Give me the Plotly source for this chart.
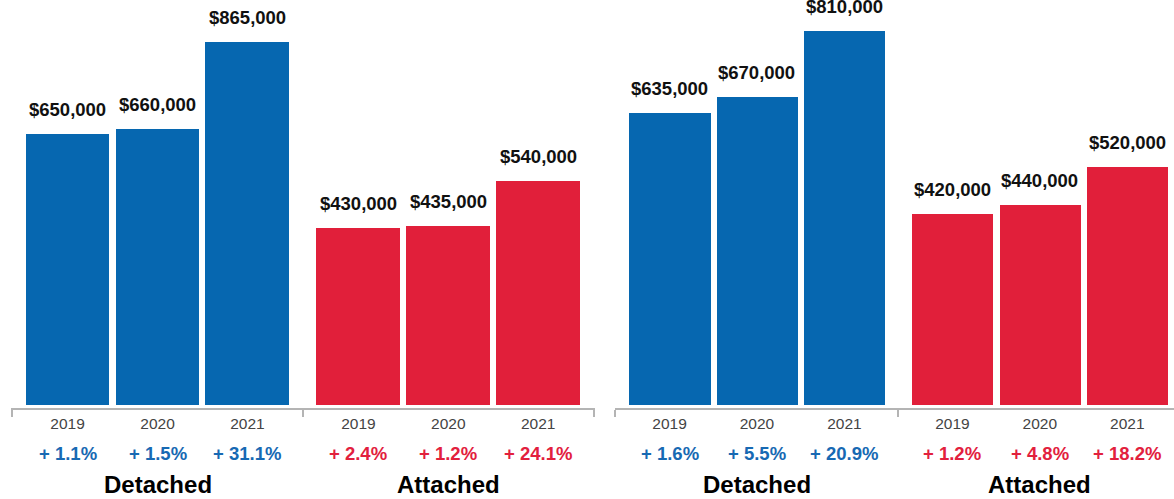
import plotly.graph_objects as go

# ---- data ----
years = ["2019", "2020", "2021"]
groups = ["Detached", "Attached"]

left_detached = [650000, 660000, 865000]
left_attached = [430000, 435000, 540000]
right_detached = [635000, 670000, 810000]
right_attached = [420000, 440000, 520000]

left_det_change = [1.1, 1.5, 31.1]
left_att_change = [2.4, 1.2, 24.1]
right_det_change = [1.6, 5.5, 20.9]
right_att_change = [1.2, 4.8, 18.2]

# ---- style ----
W, H = 1174, 499
BLUE = "#0667B0"
RED = "#E11F3A"
BLUE_TXT = "#1769B3"
RED_TXT = "#E2203D"
AXIS_GRAY = "#B4B4B4"
FONT = "Liberation Sans, Arial, Helvetica, sans-serif"

GROUP_OFFSET = [0.0, 3.235]   # slot offset of each group along the x axis
BAR_W = 0.93
EDGE = 0.618                  # distance from outer bar centre to group boundary


def slots(offset):
    return [offset + i for i in range(len(years))]


def fmt_money(v):
    return "${:,.0f}".format(v)


def fmt_change(v):
    return "+ {:.1f}%".format(v)


panels = [
    dict(vals=[left_detached, left_attached],
         chg=[left_det_change, left_att_change],
         px0=67.6, ppu=89.9, yscale=0.000427, base_px=411.3, right_px=None),
    dict(vals=[right_detached, right_attached],
         chg=[right_det_change, right_att_change],
         px0=669.5, ppu=87.45, yscale=0.00047, base_px=411.7, right_px=W),
]

PLOT_BOTTOM_PX = 405   # bottom edge of the bar area
AXIS_LINE_PX = 409     # horizontal axis line

fig = go.Figure()
layout = dict(
    width=W, height=H,
    margin=dict(l=0, r=0, t=0, b=0, pad=0),
    paper_bgcolor="white", plot_bgcolor="white",
    showlegend=False, bargap=0,
    font=dict(family=FONT),
    annotations=[],
)

for p_i, p in enumerate(panels):
    sfx = "" if p_i == 0 else str(p_i + 1)
    xa, ya = "x" + sfx, "y" + sfx

    r0 = -EDGE - 0.01
    if p["right_px"] is None:
        r1 = GROUP_OFFSET[1] + 2 + EDGE + 0.01
        d1 = (p["px0"] + p["ppu"] * r1) / W
    else:
        r1 = (p["right_px"] - p["px0"]) / p["ppu"]
        d1 = 1.0
    d0 = (p["px0"] + p["ppu"] * r0) / W

    boundaries = [-EDGE, (2 + GROUP_OFFSET[1]) / 2, GROUP_OFFSET[1] + 2 + EDGE]
    boundaries = [b for b in boundaries if r0 <= b <= r1]

    ylo = (p["base_px"] - PLOT_BOTTOM_PX) / p["yscale"]
    yhi = p["base_px"] / p["yscale"]

    tickvals, ticktext = [], []
    for g_i, g in enumerate(groups):
        xs = slots(GROUP_OFFSET[g_i])
        color = BLUE if g_i == 0 else RED
        tcolor = BLUE_TXT if g_i == 0 else RED_TXT
        vals = p["vals"][g_i]
        fig.add_trace(go.Bar(
            x=xs, y=vals, width=BAR_W,
            marker=dict(color=color, line=dict(width=0)),
            xaxis=xa, yaxis=ya, hoverinfo="skip",
        ))
        tickvals += xs
        ticktext += years
        for x, v, c in zip(xs, vals, p["chg"][g_i]):
            layout["annotations"].append(dict(
                x=x, y=v, xref=xa, yref=ya, text=fmt_money(v),
                showarrow=False, yanchor="middle", yshift=24.5,
                font=dict(size=18.5, color="#111111", family=FONT, weight="bold"),
            ))
            layout["annotations"].append(dict(
                x=x, y=0, xref=xa, yref=ya + " domain", text=fmt_change(c),
                showarrow=False, yanchor="middle", yshift=-48,
                font=dict(size=18.5, color=tcolor, family=FONT, weight="bold"),
            ))
        layout["annotations"].append(dict(
            x=GROUP_OFFSET[g_i] + 1, y=0, xref=xa, yref=ya + " domain", text=g,
            showarrow=False, yanchor="middle", yshift=-79.5,
            font=dict(size=24, color="#000000", family=FONT, weight="bold"),
        ))

    layout["xaxis" + sfx] = dict(
        domain=[d0, d1], range=[r0, r1],
        anchor="free", position=(H - AXIS_LINE_PX) / H,
        showline=True, linecolor=AXIS_GRAY, linewidth=2,
        showgrid=False, zeroline=False,
        tickmode="array", tickvals=tickvals, ticktext=ticktext,
        ticks="", ticklabelstandoff=0,
        tickfont=dict(size=15.5, color="#444444", family=FONT),
        minor=dict(tickmode="array", tickvals=boundaries, ticks="outside",
                   ticklen=7, tickwidth=2, tickcolor=AXIS_GRAY, showgrid=False),
        fixedrange=True,
    )
    layout["yaxis" + sfx] = dict(
        domain=[(H - PLOT_BOTTOM_PX) / H, 1.0], range=[ylo, yhi],
        anchor=xa, visible=False, showgrid=False, zeroline=False,
        fixedrange=True,
    )

fig.update_layout(**layout)
fig.write_html("out.html", config={"displayModeBar": False})
